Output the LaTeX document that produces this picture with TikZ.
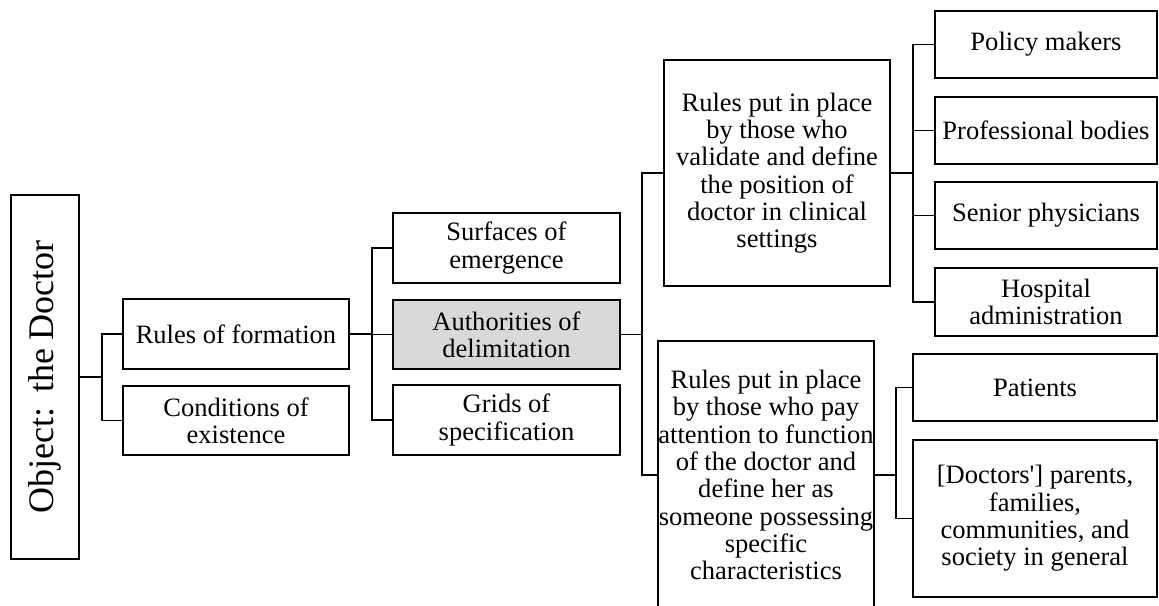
\documentclass[tikz,border=0pt]{standalone}
\usepackage{fontspec}
\setmainfont{Liberation Serif}
\definecolor{boxgray}{HTML}{D9D9D9}
\begin{document}
\begin{tikzpicture}[x=0.75pt,y=-0.75pt,
  box/.style={draw=black, line width=1.5pt, inner sep=0pt, align=center,
    font=\fontsize{19.9pt}{20.5pt}\selectfont},
  link/.style={draw=black, line width=1.4pt},
  shaded/.style={fill=boxgray}]
\useasboundingbox (0,0) rectangle (1159,606);

% root
\node[box, minimum width=68*0.75pt, minimum height=364*0.75pt] (obj) at (45,377) {};
\node[rotate=90, inner sep=0pt, font=\fontsize{27pt}{30pt}\selectfont] (objtext) at (obj.center) {Object:\ \,the Doctor};

% second level
\node[box, minimum width=226*0.75pt, minimum height=70*0.75pt] (rf) at (236,334) {Rules of formation};
\node[box, minimum width=226*0.75pt, minimum height=69*0.75pt] (ce) at (236,420.5) {Conditions of\\existence};

% third level
\node[box, minimum width=227*0.75pt, minimum height=70*0.75pt] (se) at (506.5,248) {Surfaces of\\emergence};
\node[box, shaded, minimum width=227*0.75pt, minimum height=69*0.75pt] (ad) at (506.5,334.5) {Authorities of\\delimitation};
\node[box, minimum width=227*0.75pt, minimum height=70*0.75pt] (gs) at (506.5,420) {Grids of\\specification};

% fourth level
\node[box, minimum width=226*0.75pt, minimum height=226*0.75pt] (r1) at (777,173)
  {Rules put in place\\by those who\\validate and define\\the position of\\doctor in clinical\\settings};
\node[box, minimum width=210*0.75pt, minimum height=268*0.75pt] (r2) at (766,475)
  {Rules put in place\\by those who pay\\attention to function\\of the doctor and\\define her as\\someone possessing\\specific\\characteristics};

% leaves
\node[box, minimum width=222*0.75pt, minimum height=67*0.75pt] (pm) at (1046,44.5) {Policy makers};
\node[box, minimum width=222*0.75pt, minimum height=67*0.75pt] (pb) at (1046,130.5) {Professional bodies};
\node[box, minimum width=222*0.75pt, minimum height=67*0.75pt] (sp) at (1046,215.5) {Senior physicians};
\node[box, minimum width=222*0.75pt, minimum height=68*0.75pt] (ha) at (1046,302) {Hospital\\administration};
\node[box, minimum width=244*0.75pt, minimum height=67*0.75pt] (pa) at (1035,387.5) {Patients};
\node[box, minimum width=244*0.75pt, minimum height=157*0.75pt] (dp) at (1035,518.5)
  {[Doctors\textquotesingle] parents,\\families,\\communities, and\\society in general};

% connectors
\draw[link] (obj.east) -- ++(22,0) |- (rf.west);
\draw[link] (obj.east) -- ++(22,0) |- (ce.west);
\draw[link] (rf.east) -- ++(22,0) |- (se.west);
\draw[link] (rf.east) -- ++(22,0) |- (ad.west);
\draw[link] (rf.east) -- ++(22,0) |- (gs.west);
\draw[link] (ad.east) -- ++(21,0) |- (r1.west);
\draw[link] (ad.east) -- ++(21,0) |- (r2.west);
\draw[link] (r1.east) -- ++(22,0) |- (pm.west);
\draw[link] (r1.east) -- ++(22,0) |- (pb.west);
\draw[link] (r1.east) -- ++(22,0) |- (sp.west);
\draw[link] (r1.east) -- ++(22,0) |- (ha.west);
\draw[link] (r2.east) -- ++(21,0) |- (pa.west);
\draw[link] (r2.east) -- ++(21,0) |- (dp.west);
\end{tikzpicture}
\end{document}
